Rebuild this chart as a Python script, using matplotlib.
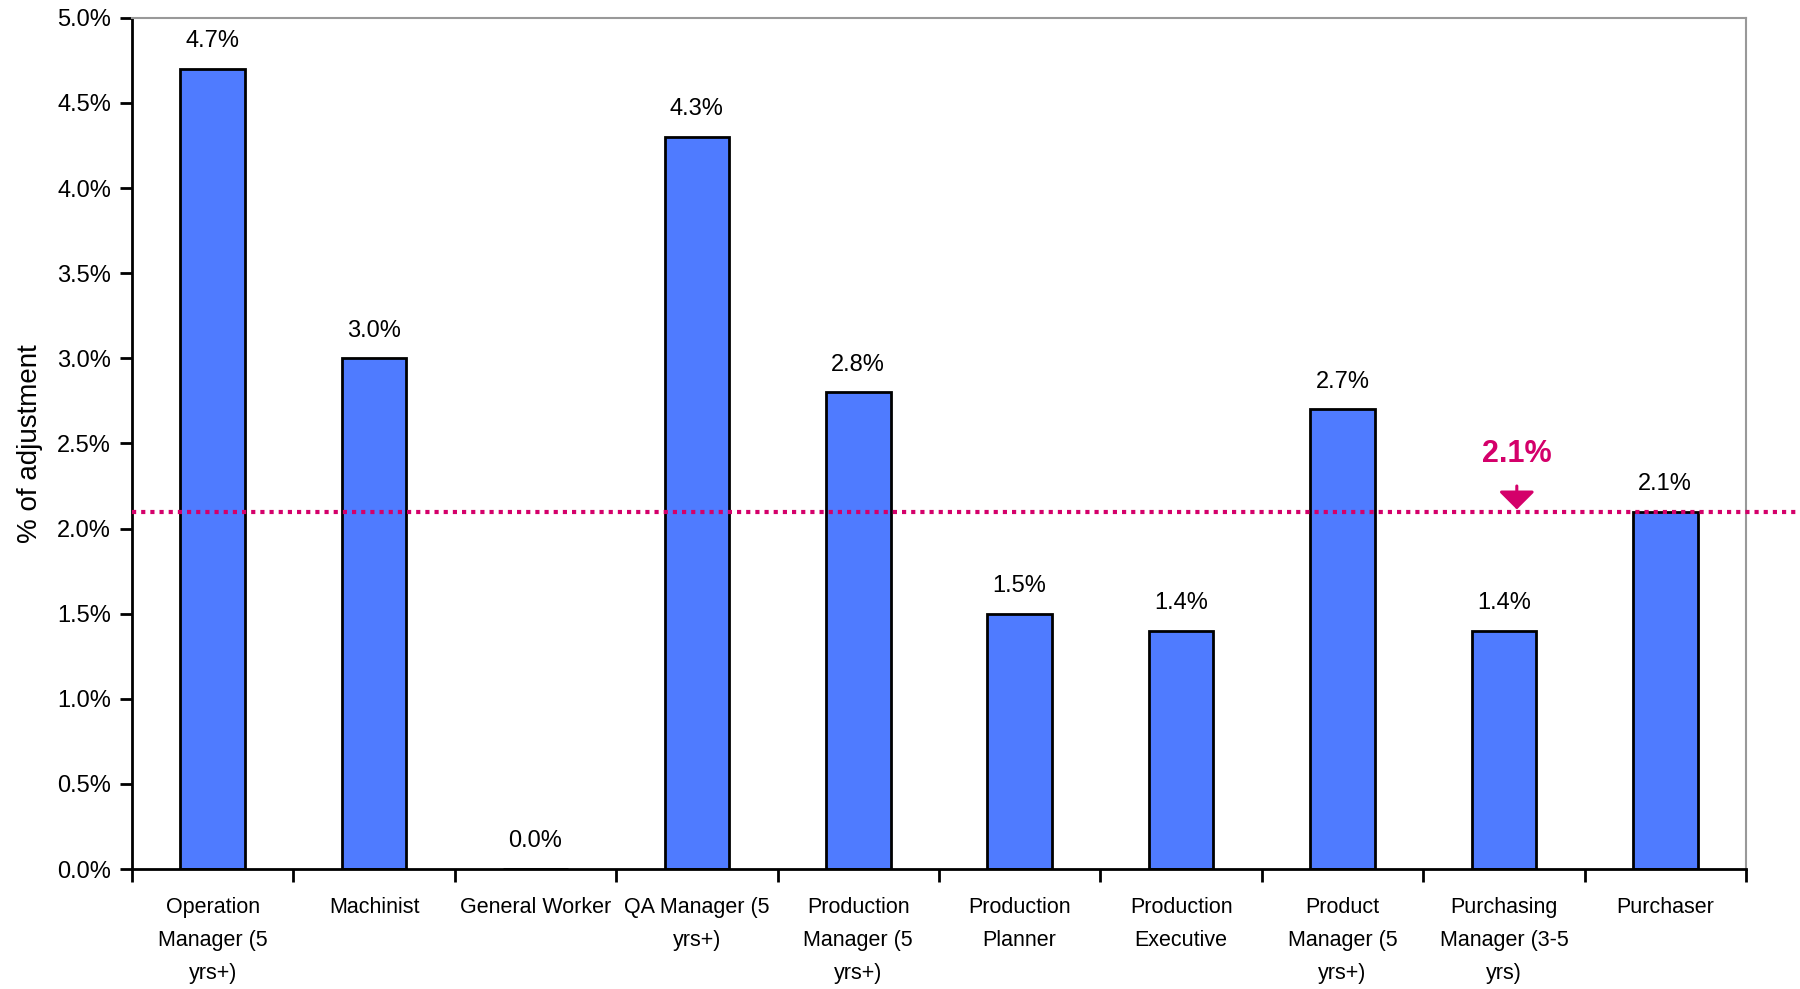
import matplotlib.pyplot as plt
from matplotlib import font_manager
from matplotlib.ticker import FuncFormatter

categories = [
    "Operation\nManager (5\nyrs+)",
    "Machinist",
    "General Worker",
    "QA Manager (5\nyrs+)",
    "Production\nManager (5\nyrs+)",
    "Production\nPlanner",
    "Production\nExecutive",
    "Product\nManager (5\nyrs+)",
    "Purchasing\nManager (3-5\nyrs)",
    "Purchaser",
]
adjustment = [4.7, 3.0, 0.0, 4.3, 2.8, 1.5, 1.4, 2.7, 1.4, 2.1]
average = 2.1
average_label = "2.1%"

names = {f.name for f in font_manager.fontManager.ttflist}
if "Liberation Sans Narrow" in names:
    plt.rcParams['font.family'] = ['Liberation Sans Narrow', 'DejaVu Sans']
else:
    plt.rcParams['font.family'] = ['Liberation Sans', 'DejaVu Sans']

fig = plt.figure(figsize=(18, 9.89), dpi=100)
ax = fig.add_axes([0.0733, 0.1213, 0.8967, 0.8607])

x = list(range(len(categories)))
bars = ax.bar(x, adjustment, width=0.4, color='#4F7BFF', edgecolor='black',
              linewidth=2, zorder=2)

for xi, v in zip(x, adjustment):
    ax.annotate(f"{v:.1f}%", (xi, v), xytext=(0, 12), textcoords='offset points',
                ha='center', va='bottom', fontsize=17)

ax.set_xlim(-0.5, len(categories) - 0.5)
ax.set_ylim(0, 5.0)
ax.set_yticks([i * 0.5 for i in range(11)])
ax.yaxis.set_major_formatter(FuncFormatter(lambda v, p: f"{v:.1f}%"))
ax.set_ylabel("% of adjustment", fontsize=20, labelpad=10)

# ticks sit between the categories, labels under each bar
ax.set_xticks([i - 0.5 for i in range(len(categories) + 1)])
ax.set_xticklabels([])
ax.set_xticks(x, minor=True)
ax.set_xticklabels(categories, minor=True, fontsize=15.5, linespacing=1.75, va='top')
ax.tick_params(axis='x', which='minor', length=0, pad=20)
ax.tick_params(axis='x', which='major', length=9, width=2, direction='out')
ax.tick_params(axis='y', length=9, width=2, direction='out', labelsize=17, pad=6)

for side in ['left', 'bottom']:
    ax.spines[side].set_linewidth(2)
    ax.spines[side].set_color('black')
for side in ['top', 'right']:
    ax.spines[side].set_linewidth(1.5)
    ax.spines[side].set_color('#999999')

# average line runs past the plot area to the page edge
ax.axhline(average, xmin=0, xmax=1.034, color='#D4006A', linestyle=(0, (1, 1.2)),
           linewidth=3, clip_on=False, zorder=3)
ax.text(8.08, 2.44, average_label, ha='center', va='center', fontsize=22,
        fontweight='bold', color='#D4006A', family=['Liberation Sans', 'DejaVu Sans'])
ax.annotate("", xy=(8.08, average + 0.012), xytext=(8.08, 2.25),
            arrowprops=dict(arrowstyle='-|>,head_length=0.55,head_width=0.55',
                            color='#D4006A', lw=2.2, mutation_scale=20,
                            shrinkA=0, shrinkB=0))

fig.savefig("out.png", dpi=100)
